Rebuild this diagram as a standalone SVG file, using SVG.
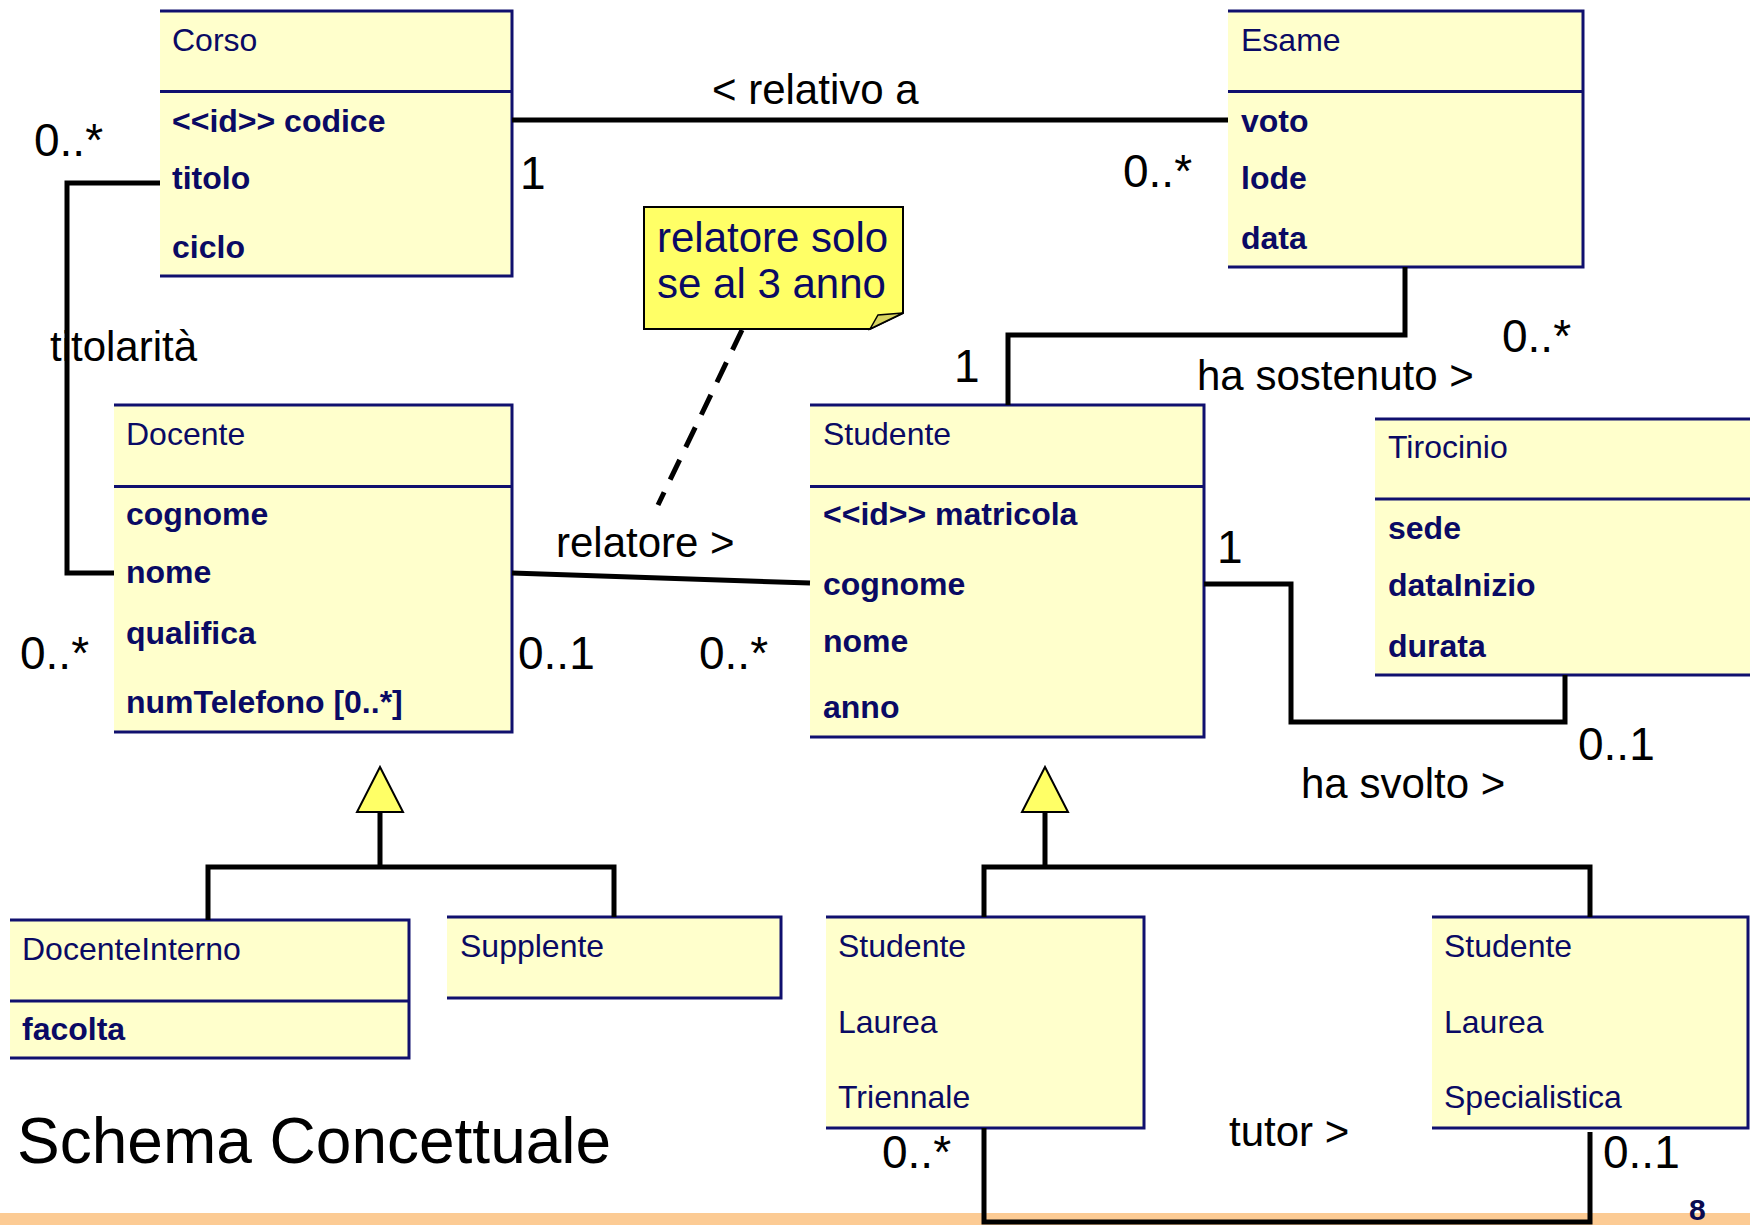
<svg xmlns="http://www.w3.org/2000/svg" width="1750" height="1225" viewBox="0 0 1750 1225">
<style>
.fill{fill:#FFFFCC;stroke:none}
.bd{stroke:#10106E;stroke-width:3;fill:none}
.t{font-family:"Liberation Sans",Arial,sans-serif;font-size:32px;fill:#0A0A64}
.a{font-family:"Liberation Sans",Arial,sans-serif;font-size:32px;font-weight:bold;fill:#0A0A64}
.c{stroke:#000;stroke-width:5;fill:none}
.lb{font-family:"Liberation Sans",Arial,sans-serif;font-size:42px;fill:#000}
.m{font-family:"Liberation Sans",Arial,sans-serif;font-size:46px;fill:#000}
.tri{fill:#FFFF66;stroke:#000;stroke-width:2}
</style>
<rect x="0" y="0" width="1750" height="1225" fill="#fff"/>
<rect x="0" y="1213" width="1750" height="12" fill="#FCCB94"/>

<g id="Corso">
<rect class="fill" x="160" y="11" width="352" height="265"/>
<path class="bd" d="M160 11H512V276H160M160 91.5H512"/>
<text class="t" x="172" y="51">Corso</text>
<text class="a" x="172" y="132">&lt;&lt;id&gt;&gt; codice</text>
<text class="a" x="172" y="189">titolo</text>
<text class="a" x="172" y="258">ciclo</text>
</g>

<g id="Esame">
<rect class="fill" x="1228" y="11" width="355" height="256"/>
<path class="bd" d="M1228 11H1583V267H1228M1228 91.5H1583"/>
<text class="t" x="1241" y="51">Esame</text>
<text class="a" x="1241" y="132">voto</text>
<text class="a" x="1241" y="189">lode</text>
<text class="a" x="1241" y="249">data</text>
</g>

<g id="Docente">
<rect class="fill" x="114" y="405" width="398" height="327"/>
<path class="bd" d="M114 405H512V732H114M114 486.5H512"/>
<text class="t" x="126" y="445">Docente</text>
<text class="a" x="126" y="525">cognome</text>
<text class="a" x="126" y="583">nome</text>
<text class="a" x="126" y="644">qualifica</text>
<text class="a" x="126" y="713">numTelefono [0..*]</text>
</g>

<g id="Studente">
<rect class="fill" x="810" y="405" width="394" height="332"/>
<path class="bd" d="M810 405H1204V737H810M810 486.5H1204"/>
<text class="t" x="823" y="445">Studente</text>
<text class="a" x="823" y="525">&lt;&lt;id&gt;&gt; matricola</text>
<text class="a" x="823" y="595">cognome</text>
<text class="a" x="823" y="652">nome</text>
<text class="a" x="823" y="718">anno</text>
</g>

<g id="Tirocinio">
<rect class="fill" x="1375" y="419" width="380" height="256"/>
<path class="bd" d="M1375 419H1760M1375 499H1760M1375 675H1760"/>
<text class="t" x="1388" y="458">Tirocinio</text>
<text class="a" x="1388" y="539">sede</text>
<text class="a" x="1388" y="596">dataInizio</text>
<text class="a" x="1388" y="657">durata</text>
</g>

<g id="DocenteInterno">
<rect class="fill" x="10" y="920" width="399" height="138"/>
<path class="bd" d="M10 920H409V1058H10M10 1001H409"/>
<text class="t" x="22" y="960">DocenteInterno</text>
<text class="a" x="22" y="1040">facolta</text>
</g>

<g id="Supplente">
<rect class="fill" x="447" y="917" width="334" height="81"/>
<path class="bd" d="M447 917H781V998H447"/>
<text class="t" x="460" y="957">Supplente</text>
</g>

<g id="StudenteLaureaTriennale">
<rect class="fill" x="826" y="917" width="318" height="211"/>
<path class="bd" d="M826 917H1144V1128H826"/>
<text class="t" x="838" y="957">Studente</text>
<text class="t" x="838" y="1033">Laurea</text>
<text class="t" x="838" y="1108">Triennale</text>
</g>

<g id="StudenteLaureaSpecialistica">
<rect class="fill" x="1432" y="917" width="316" height="211"/>
<path class="bd" d="M1432 917H1748V1128H1432"/>
<text class="t" x="1444" y="957">Studente</text>
<text class="t" x="1444" y="1033">Laurea</text>
<text class="t" x="1444" y="1108">Specialistica</text>
</g>

<g id="Nota">
<path d="M644 207H903V313L870 329H644Z" fill="#FFFF66" stroke="#000" stroke-width="2"/>
<path d="M870 329L878 315L903 313Z" fill="#D8D460" stroke="#000" stroke-width="1.5"/>
<text class="lb" x="657" y="252" style="fill:#0A0A64">relatore solo</text>
<text class="lb" x="657" y="298" style="fill:#0A0A64">se al 3 anno</text>
</g>

<g id="connectors">
<path class="c" d="M512 120H1228"/>
<path class="c" d="M160 183H67V573H114"/>
<path class="c" d="M512 573L810 583"/>
<path class="c" d="M1008 405V335H1405V267"/>
<path class="c" d="M1204 584H1291V722H1565V675"/>
<path class="c" d="M742 330L658 505" stroke-dasharray="22,14"/>
<path class="c" d="M380 812V867M208 920V867H614V917"/>
<path class="tri" d="M380 767L357 812H403Z"/>
<path class="c" d="M1045 812V867M984 917V867H1590V917"/>
<path class="tri" d="M1045 767L1022 812H1068Z"/>
<path class="c" d="M984 1128V1222H1590V1132"/>
</g>

<g id="labels">
<text class="lb" x="712" y="104">&lt; relativo a</text>
<text class="m" x="520" y="189">1</text>
<text class="m" x="1123" y="187">0..*</text>
<text class="m" x="34" y="156">0..*</text>
<text class="lb" x="50" y="361">titolarità</text>
<text class="m" x="20" y="669">0..*</text>
<text class="lb" x="556" y="557">relatore &gt;</text>
<text class="m" x="518" y="669">0..1</text>
<text class="m" x="699" y="669">0..*</text>
<text class="m" x="954" y="382">1</text>
<text class="lb" x="1197" y="390">ha sostenuto &gt;</text>
<text class="m" x="1502" y="352">0..*</text>
<text class="m" x="1217" y="563">1</text>
<text class="m" x="1578" y="760">0..1</text>
<text class="lb" x="1301" y="798">ha svolto &gt;</text>
<text class="lb" x="1229" y="1146">tutor &gt;</text>
<text class="m" x="882" y="1168">0..*</text>
<text class="m" x="1603" y="1168">0..1</text>
<text x="17" y="1163" style="font-family:'Liberation Sans',Arial,sans-serif;font-size:64px;fill:#000">Schema Concettuale</text>
<text x="1689" y="1220" style="font-family:'Liberation Sans',Arial,sans-serif;font-size:30px;font-weight:bold;fill:#0A0A50">8</text>
</g>
</svg>
